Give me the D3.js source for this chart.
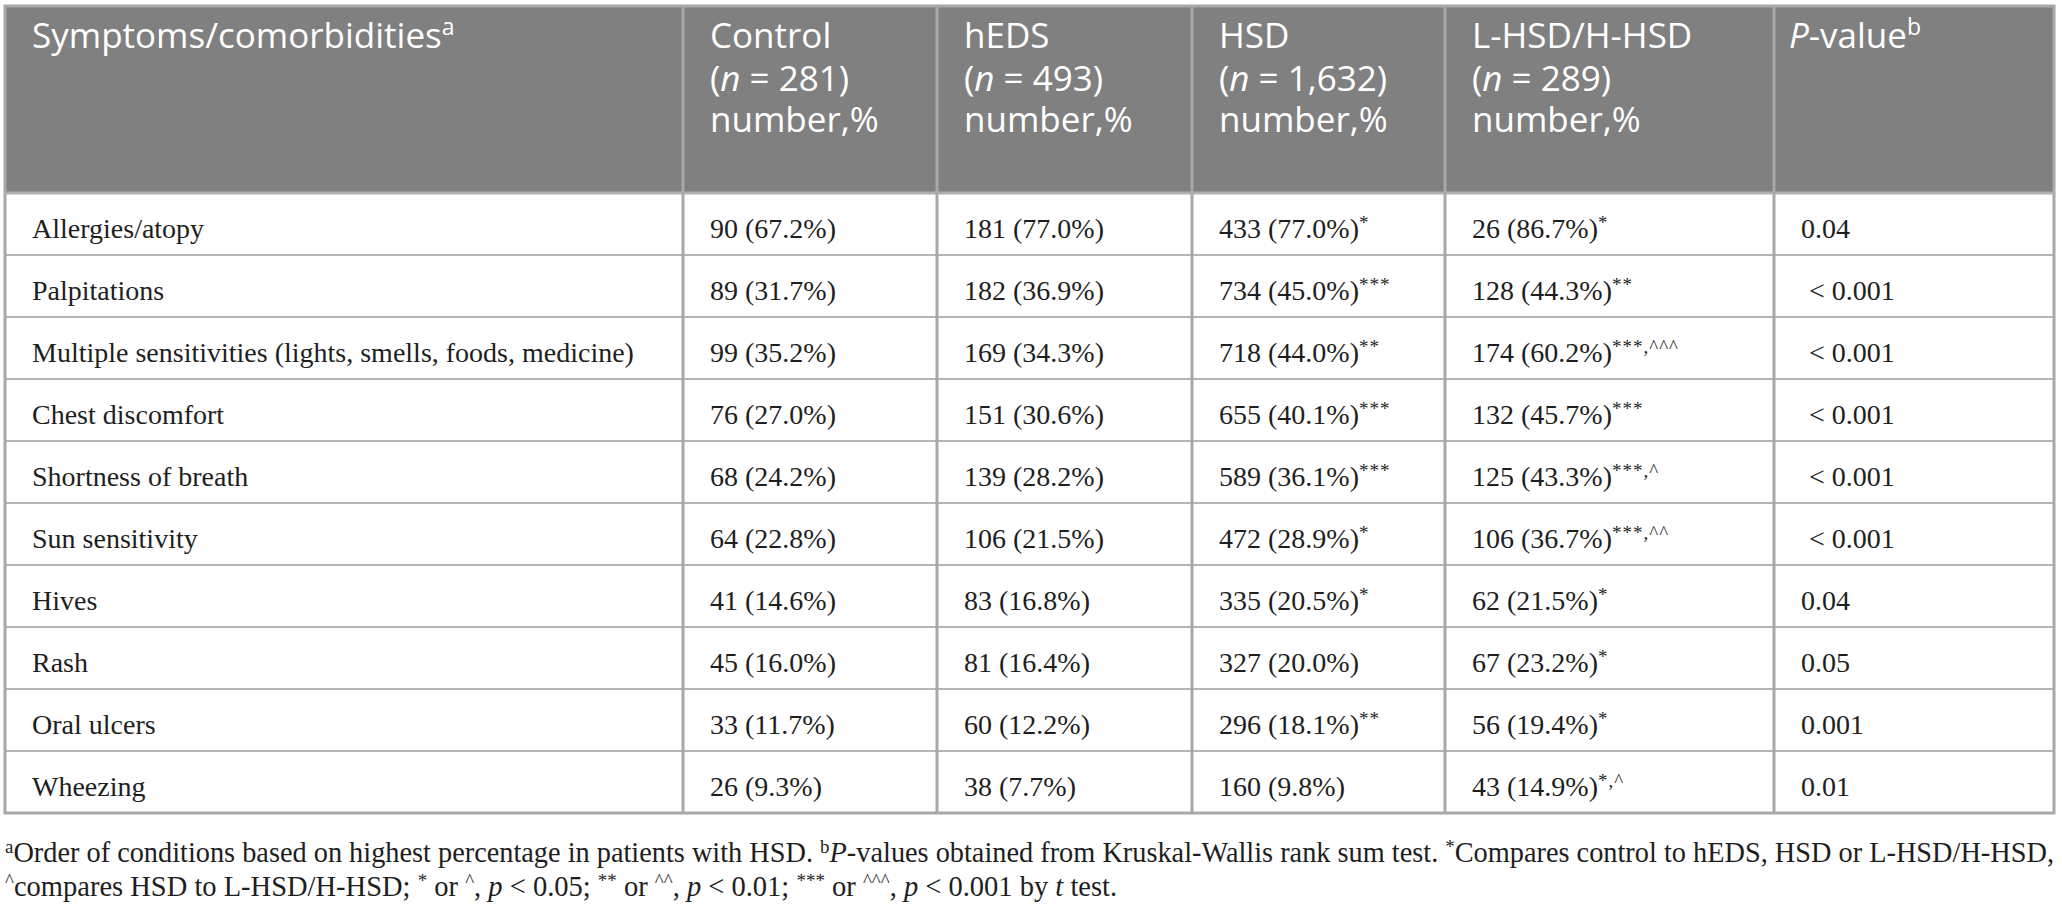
<!DOCTYPE html>
<html>
<head>
<meta charset="utf-8">
<script src="https://cdn.jsdelivr.net/npm/d3@7"></script>
<style>
  body { margin: 0; background: #fff; }
  svg { display: block; }
</style>
</head>
<body>
<svg id="svg"></svg>
<script>
// Table data
const symptoms = [
    "Allergies/atopy",
    "Palpitations",
    "Multiple sensitivities (lights, smells, foods, medicine)",
    "Chest discomfort",
    "Shortness of breath",
    "Sun sensitivity",
    "Hives",
    "Rash",
    "Oral ulcers",
    "Wheezing"
];
const groupNames = ["Control", "hEDS", "HSD", "L-HSD/H-HSD"];
const groupSizes = ["281", "493", "1,632", "289"];

const controlN = [90, 89, 99, 76, 68, 64, 41, 45, 33, 26];
const controlPct = ["67.2", "31.7", "35.2", "27.0", "24.2", "22.8", "14.6", "16.0", "11.7", "9.3"];
const controlSig = ["", "", "", "", "", "", "", "", "", ""];

const hedsN = [181, 182, 169, 151, 139, 106, 83, 81, 60, 38];
const hedsPct = ["77.0", "36.9", "34.3", "30.6", "28.2", "21.5", "16.8", "16.4", "12.2", "7.7"];
const hedsSig = ["", "", "", "", "", "", "", "", "", ""];

const hsdN = [433, 734, 718, 655, 589, 472, 335, 327, 296, 160];
const hsdPct = ["77.0", "45.0", "44.0", "40.1", "36.1", "28.9", "20.5", "20.0", "18.1", "9.8"];
const hsdSig = ["*", "***", "**", "***", "***", "*", "*", "", "**", ""];

const lhsdN = [26, 128, 174, 132, 125, 106, 62, 67, 56, 43];
const lhsdPct = ["86.7", "44.3", "60.2", "45.7", "43.3", "36.7", "21.5", "23.2", "19.4", "14.9"];
const lhsdSig = ["*", "**", "***,^^^", "***", "***,^", "***,^^", "*", "*", "*", "*,^"];

const pValues = ["0.04", "< 0.001", "< 0.001", "< 0.001", "< 0.001", "< 0.001", "0.04", "0.05", "0.001", "0.01"];

// Layout
const width = 2062, height = 912;
const colEdges = [5, 683, 937, 1192, 1445, 1774, 2054];
const headTop = 6, headBottom = 193, tableBottom = 813;
const pad = 27;
const serif = "'Liberation Serif', 'Times New Roman', serif";
const sans = "'Open Sans', 'Noto Sans', sans-serif";

const svg = d3.select("#svg").attr("width", width).attr("height", height);

const y = d3.scaleBand()
    .domain(d3.range(symptoms.length))
    .range([headBottom, tableBottom]);

const colX = d3.scaleOrdinal()
    .domain(d3.range(colEdges.length - 1))
    .range(colEdges.slice(0, -1));

const groups = [
    { n: controlN, pct: controlPct, sig: controlSig },
    { n: hedsN, pct: hedsPct, sig: hedsSig },
    { n: hsdN, pct: hsdPct, sig: hsdSig },
    { n: lhsdN, pct: lhsdPct, sig: lhsdSig }
];

// header background
svg.append("rect")
    .attr("x", colEdges[0]).attr("y", headTop)
    .attr("width", colEdges[6] - colEdges[0]).attr("height", headBottom - headTop)
    .attr("fill", "#808080");

// row lines
svg.selectAll("line.row")
    .data(d3.range(1, symptoms.length))
    .enter()
    .append("line")
    .attr("class", "row")
    .attr("x1", colEdges[0]).attr("x2", colEdges[6])
    .attr("y1", (i) => y(i)).attr("y2", (i) => y(i))
    .attr("stroke", "#b5b5b5").attr("stroke-width", 2);

svg.append("line")
    .attr("x1", colEdges[0]).attr("x2", colEdges[6])
    .attr("y1", headBottom).attr("y2", headBottom)
    .attr("stroke", "#b0b0b0").attr("stroke-width", 3);

// column lines
svg.selectAll("line.col")
    .data(colEdges.slice(1, -1))
    .enter()
    .append("line")
    .attr("class", "col")
    .attr("x1", (d) => d).attr("x2", (d) => d)
    .attr("y1", headTop).attr("y2", tableBottom)
    .attr("stroke", "#a8a8a8").attr("stroke-width", 3);

// outer border
svg.append("rect")
    .attr("x", colEdges[0]).attr("y", headTop)
    .attr("width", colEdges[6] - colEdges[0]).attr("height", tableBottom - headTop)
    .attr("fill", "none")
    .attr("stroke", "#a8a8a8").attr("stroke-width", 3);

// header texts
const head = svg.append("g")
    .attr("font-family", sans).attr("font-size", 35).attr("fill", "#fff");

const h0 = head.append("text").attr("x", colX(0) + pad).attr("y", 48);
h0.append("tspan").text("Symptoms/comorbidities");
h0.append("tspan").attr("font-size", 23).attr("dy", -13).text("a");

groupNames.forEach((name, i) => {
    const t = head.append("text").attr("x", colX(i + 1) + pad).attr("y", 48);
    t.append("tspan").text(name);
    const l2 = t.append("tspan").attr("x", colX(i + 1) + pad).attr("dy", 43);
    l2.append("tspan").text("(");
    l2.append("tspan").attr("font-style", "italic").text("n");
    l2.append("tspan").text(" = " + groupSizes[i] + ")");
    t.append("tspan").attr("x", colX(i + 1) + pad).attr("dy", 41).text("number,%");
});

const hp = head.append("text").attr("x", colX(5) + pad - 12).attr("y", 48);
hp.append("tspan").attr("font-style", "italic").text("P");
hp.append("tspan").text("-value");
hp.append("tspan").attr("font-size", 23).attr("dy", -13).text("b");

// body rows
const body = svg.append("g")
    .attr("font-family", serif).attr("font-size", 28).attr("fill", "#1e1e1e");

const rows = body.selectAll("g.r")
    .data(symptoms)
    .enter()
    .append("g")
    .attr("class", "r")
    .attr("transform", (d, i) => "translate(0," + (y(i) + 45) + ")");

rows.append("text")
    .attr("x", colX(0) + pad)
    .text((d) => d);

groups.forEach((g, gi) => {
    const t = rows.append("text").attr("x", colX(gi + 1) + pad);
    t.append("tspan").text((d, i) => g.n[i] + " (" + g.pct[i] + "%)");
    t.append("tspan")
        .attr("font-size", 19)
        .attr("dy", -9)
        .attr("letter-spacing", 1)
        .text((d, i) => g.sig[i]);
});

rows.append("text")
    .attr("x", (d, i) => colX(5) + pad + (pValues[i].startsWith("<") ? 8 : 0))
    .text((d, i) => pValues[i]);

// footnotes
const foot = svg.append("g")
    .attr("font-family", serif).attr("font-size", 28.5).attr("fill", "#1e1e1e");

function addRuns(textSel, runs) {
    let raised = false;
    runs.forEach((r) => {
        const s = textSel.append("tspan").text(r.t);
        if (r.sup) {
            s.attr("font-size", 19);
            if (!raised) s.attr("dy", -9);
            raised = true;
        } else if (raised) {
            s.attr("dy", 9);
            raised = false;
        }
        if (r.it) s.attr("font-style", "italic");
    });
}

const f1 = foot.append("text").attr("x", 5).attr("y", 862);
addRuns(f1, [
    { t: "a", sup: true },
    { t: "Order of conditions based on highest percentage in patients with HSD. " },
    { t: "b", sup: true },
    { t: "P", it: true },
    { t: "-values obtained from Kruskal-Wallis rank sum test. " },
    { t: "*", sup: true },
    { t: "Compares control to hEDS, HSD or L-HSD/H-HSD," }
]);

const f2 = foot.append("text").attr("x", 5).attr("y", 896);
addRuns(f2, [
    { t: "^", sup: true },
    { t: "compares HSD to L-HSD/H-HSD; " },
    { t: "*", sup: true },
    { t: " or " },
    { t: "^", sup: true },
    { t: ", " },
    { t: "p", it: true },
    { t: " < 0.05; " },
    { t: "**", sup: true },
    { t: " or " },
    { t: "^^", sup: true },
    { t: ", " },
    { t: "p", it: true },
    { t: " < 0.01; " },
    { t: "***", sup: true },
    { t: " or " },
    { t: "^^^", sup: true },
    { t: ", " },
    { t: "p", it: true },
    { t: " < 0.001 by " },
    { t: "t", it: true },
    { t: " test." }
]);

// justify first footnote line to the table width
const natural = f1.node().getComputedTextLength();
const spaces = (f1.text().match(/ /g) || []).length;
const target = colEdges[6] - colEdges[0];
if (spaces > 0 && natural < target) {
    f1.attr("word-spacing", (target - natural) / spaces);
} else if (natural > target) {
    f1.attr("textLength", target).attr("lengthAdjust", "spacingAndGlyphs");
}
</script>
</body>
</html>
